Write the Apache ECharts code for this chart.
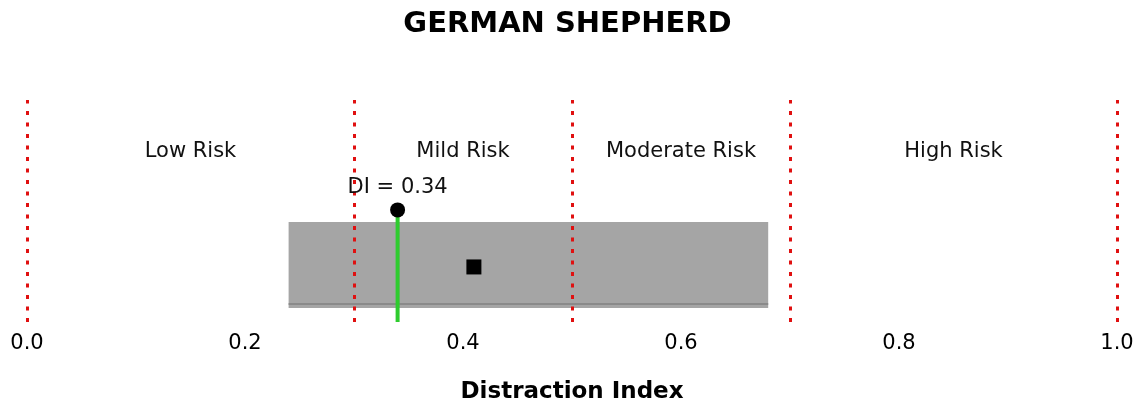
<!DOCTYPE html>
<html>
<head>
<meta charset="UTF-8">
<title>German Shepherd</title>
<script src="https://cdn.jsdelivr.net/npm/echarts@6/dist/echarts.min.js"></script>
<style>
    html, body { margin: 0; padding: 0; background: #fff; }
    #main { width: 1135px; height: 400px; }
</style>
</head>
<body>
<div id="main"></div>
<script>
    // 数据
    var thresholds = [0, 0.3, 0.5, 0.7, 1.0];
    var zoneNames = ['Low Risk', 'Mild Risk', 'Moderate Risk', 'High Risk'];
    var zoneCenters = [0.15, 0.4, 0.6, 0.85];
    var rangeBox = [0.24, 0.68];   // 灰色区间
    var medianValue = [0.41];      // 黑色方块
    var diValue = [0.34];          // 当前 DI
    var tickValues = [0, 0.2, 0.4, 0.6, 0.8, 1.0];

    // 纵向布局 (0 = 轴底, 1 = 红线顶)
    var yBoxTop = 0.45, yBoxBottom = 0.063, yInner = 0.081;
    var yMedian = 0.248, yDot = 0.505, yZone = 0.766, yDiLabel = 0.606;

    var font = 'DejaVu Sans, Verdana, sans-serif';
    var chart = echarts.init(document.getElementById('main'));

    var option = {
        animation: false,
        title: {
            text: 'GERMAN SHEPHERD',
            left: 'center',
            top: 5,
            textStyle: { fontFamily: font, fontSize: 29, fontWeight: 'bold', color: '#000' }
        },
        grid: { left: 27, right: 18, top: 100, bottom: 78, outerBoundsMode: 'none', containLabel: false },
        xAxis: {
            type: 'value', min: 0, max: 1, interval: 0.2,
            name: 'Distraction Index', nameLocation: 'middle', nameGap: 59,
            nameTextStyle: { fontFamily: font, fontSize: 23, fontWeight: 'bold', color: '#000' },
            axisLine: { show: false }, axisTick: { show: false }, splitLine: { show: false },
            axisLabel: {
                fontFamily: font, fontSize: 21, color: '#000', margin: 11,
                formatter: function (v) { return tickValues.indexOf(v) >= 0 ? v.toFixed(1) : ''; }
            }
        },
        yAxis: { type: 'value', min: 0, max: 1, show: false },
        series: [
            {
                // 风险阈值红线
                type: 'line', data: [], z: 1,
                markLine: {
                    symbol: 'none', silent: true, label: { show: false },
                    lineStyle: { color: '#e01010', width: 3, type: [4, 7.5], opacity: 1 },
                    data: thresholds.map(function (t) { return [{ coord: [t, 0] }, { coord: [t, 1] }]; })
                }
            },
            {
                // 区间灰框
                type: 'custom', z: 2,
                data: [[rangeBox[0], rangeBox[1]]],
                renderItem: function (params, api) {
                    var p0 = api.coord([api.value(0), yBoxTop]);
                    var p1 = api.coord([api.value(1), yBoxBottom]);
                    var pi = api.coord([api.value(0), yInner]);
                    var pj = api.coord([api.value(1), yInner]);
                    return {
                        type: 'group',
                        children: [
                            { type: 'rect', shape: { x: p0[0], y: p0[1], width: p1[0] - p0[0], height: p1[1] - p0[1] },
                              style: { fill: 'rgba(140,140,140,0.78)' } },
                            { type: 'line', shape: { x1: pi[0], y1: pi[1], x2: pj[0], y2: pj[1] },
                              style: { stroke: '#8a8a8a', lineWidth: 2 } }
                        ]
                    };
                }
            },
            {
                // DI 绿线
                type: 'custom', z: 3,
                data: diValue.map(function (v) { return [v]; }),
                renderItem: function (params, api) {
                    var a = api.coord([api.value(0), 0]);
                    var b = api.coord([api.value(0), yDot]);
                    return { type: 'line', shape: { x1: a[0], y1: a[1], x2: b[0], y2: b[1] },
                             style: { stroke: '#2ecc2e', lineWidth: 4 } };
                }
            },
            {
                type: 'scatter', z: 4, symbol: 'circle', symbolSize: 15,
                itemStyle: { color: '#000', opacity: 1 },
                data: diValue.map(function (v) { return [v, yDot]; })
            },
            {
                type: 'scatter', z: 4, symbol: 'rect', symbolSize: 15,
                itemStyle: { color: '#000', opacity: 1 },
                data: medianValue.map(function (v) { return [v, yMedian]; })
            },
            {
                // 文字标签
                type: 'scatter', z: 5, symbolSize: 0,
                itemStyle: { opacity: 1 },
                label: {
                    show: true, position: 'inside', fontFamily: font, fontSize: 21, color: '#111',
                    formatter: function (p) { return p.data[2]; }
                },
                data: zoneNames.map(function (n, i) { return [zoneCenters[i], yZone, n]; })
                    .concat(diValue.map(function (v) { return [v, yDiLabel, 'DI = ' + v.toFixed(2)]; }))
            }
        ]
    };

    chart.setOption(option);
</script>
</body>
</html>
